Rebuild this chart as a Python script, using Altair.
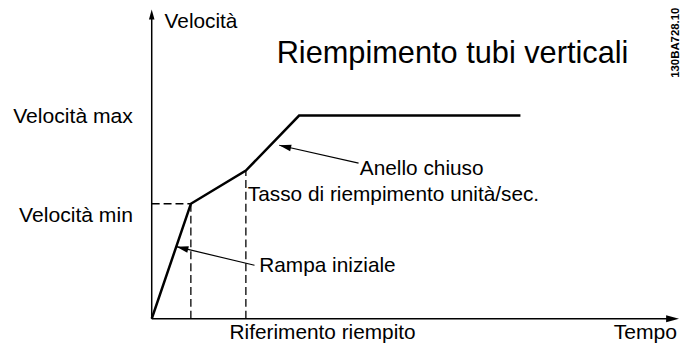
import math
import altair as alt
import pandas as pd

# ---- data (schematic units: time on x, speed on y) ----
curve_time = [0, 39.5, 95, 148.7, 372]
curve_speed = [0, 116, 149.5, 205, 205]

speed_min = 116
speed_max = 205
t_min_reached = 39.5
t_fill_ref = 95

axis_x_tip = 532
axis_y_tip = 312

title_text = "Riempimento tubi verticali"
y_axis_title = "Velocità"
x_axis_title = "Tempo"
label_max = "Velocità max"
label_min = "Velocità min"
label_closed = "Anello chiuso"
label_rate = "Tasso di riempimento unità/sec."
label_ramp = "Rampa iniziale"
label_ref = "Riferimento riempito"
doc_code = "130BA728.10"

FONT = "Liberation Sans"
xs = alt.Scale(domain=[-145, 533], nice=False, zero=False)
ys = alt.Scale(domain=[-26, 312], nice=False, zero=False)
X = lambda f: alt.X(f, type="quantitative", scale=xs, axis=None)
Y = lambda f: alt.Y(f, type="quantitative", scale=ys, axis=None)

curve_df = pd.DataFrame({"t": curve_time, "v": curve_speed, "o": range(len(curve_time))})
curve = alt.Chart(curve_df).mark_line(color="black", strokeWidth=2.5, strokeJoin="miter").encode(
    x=X("t"), y=Y("v"), order="o:Q")

# axes lines
ax_df = pd.DataFrame({
    "x": [0, 0], "y": [0, 0],
    "x2": [axis_x_tip - 12, 0], "y2": [0, axis_y_tip - 9],
})
axes = alt.Chart(ax_df).mark_rule(color="black", strokeWidth=1.5).encode(
    x=X("x"), y=Y("y"), x2="x2", y2="y2")

# dashed guides
dash_df = pd.DataFrame({
    "x": [0, t_min_reached, t_fill_ref],
    "y": [speed_min, 0, 0],
    "x2": [t_min_reached, t_min_reached, t_fill_ref],
    "y2": [speed_min, speed_min, 149.5],
})
dashed = alt.Chart(dash_df).mark_rule(color="black", strokeWidth=1.3, strokeDash=[8, 4]).encode(
    x=X("x"), y=Y("y"), x2="x2", y2="y2")

# annotation arrows (from label to curve)
ann_df = pd.DataFrame({
    "x": [103.7, 208.7], "y": [54, 157],
    "x2": [25, 128.7], "y2": [72.7, 175],
})
ann_lines = alt.Chart(ann_df).mark_rule(color="black", strokeWidth=1.2).encode(
    x=X("x"), y=Y("y"), x2="x2", y2="y2")

def ang(fx, fy, tx, ty):
    return math.degrees(math.atan2(-(ty - fy), tx - fx)) % 360

heads = pd.DataFrame({
    "x": [axis_x_tip, 0, 25, 128.7],
    "y": [0, axis_y_tip, 72.7, 175],
    "angle": [0, 270, ang(103.7, 54, 25, 72.7), ang(208.7, 157, 128.7, 175)],
    "size": [(2 * 13) ** 2, (2 * 10) ** 2, (2 * 12) ** 2, (2 * 12) ** 2],
})
arrowheads = alt.Chart(heads).mark_point(
    shape="M0,0L-1,-0.28L-1,0.28Z", filled=True, color="black", opacity=1, strokeWidth=0
).encode(x=X("x"), y=Y("y"), angle=alt.Angle("angle:Q", scale=None), size=alt.Size("size:Q", scale=None))

def texts(df, align, size, **kw):
    return alt.Chart(pd.DataFrame(df)).mark_text(
        align=align, baseline="alphabetic", font=FONT, fontSize=size, color="black", **kw
    ).encode(x=X("x"), y=Y("y"), text="label:N")

left_txt = texts({
    "x": [13, 210, 97, 108.5, 78.5],
    "y": [293, 145, 119, 47, -20],
    "label": [y_axis_title, label_closed, label_rate, label_ramp, label_ref],
}, "left", 21)
right_txt = texts({
    "x": [-19, -19, 530],
    "y": [197, 98, -20],
    "label": [label_max, label_min, x_axis_title],
}, "right", 21.3)
title_txt = texts({"x": [303.5], "y": [258], "label": [title_text]}, "center", 31)
code_txt = alt.Chart(pd.DataFrame({"x": [529], "y": [278.5], "label": [doc_code]})).mark_text(
    align="center", baseline="middle", angle=270, font=FONT, fontSize=11.5, fontWeight="bold", color="black"
).encode(x=X("x"), y=Y("y"), text="label:N")

chart = alt.layer(
    dashed, axes, ann_lines, curve, arrowheads, left_txt, right_txt, title_txt, code_txt
).properties(
    width=678, height=338, autosize=alt.AutoSizeParams(type="none"), padding=0
).configure_view(stroke=None)

chart.save("out.html", embed_options={"renderer": "svg", "actions": False})
